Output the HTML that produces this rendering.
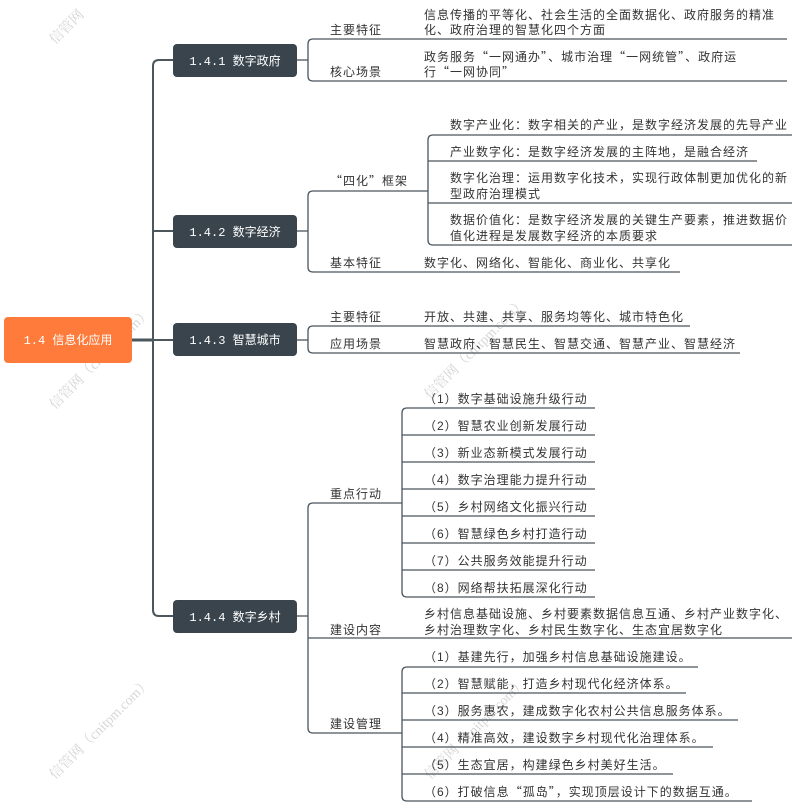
<!DOCTYPE html>
<html><head><meta charset="utf-8"><style>
html,body{margin:0;padding:0;background:#fff;}
svg{display:block;}
text{font-family:"Liberation Sans","Noto Sans CJK SC",sans-serif;font-size:12px;fill:#333;letter-spacing:1px;}
.q{font-family:"Noto Sans CJK SC",sans-serif;}
.n{font-family:"Liberation Mono","Noto Sans CJK SC",monospace;fill:#fff;font-size:12px;letter-spacing:0;}
.wm{fill:#d6d6d6;font-size:14px;font-family:"Liberation Serif","Noto Serif CJK SC",serif;letter-spacing:0;}
path,line{stroke:#4b565d;stroke-width:1.3;fill:none;}
</style></head><body>
<svg width="792" height="809" viewBox="0 0 792 809" xmlns="http://www.w3.org/2000/svg">
<text class="wm" transform="translate(55,45) rotate(-45)">信管网</text>
<text class="wm" transform="translate(55,410) rotate(-45)">信管网（cnitpm.com）</text>
<text class="wm" transform="translate(430,400) rotate(-45)">信管网（cnitpm.com）</text>
<text class="wm" transform="translate(55,780) rotate(-45)">信管网（cnitpm.com）</text>
<text class="wm" transform="translate(430,780) rotate(-45)">信管网（cnitpm.com）</text>

<line x1="132" y1="340" x2="153" y2="340" style="stroke-width:3"/>
<path d="M173,60 L159,60 Q153,60 153,66 L153,610 Q153,616 159,616 L173,616" style="stroke-width:2"/>
<line x1="153" y1="231" x2="173" y2="231" style="stroke-width:2"/>
<line x1="153" y1="340" x2="173" y2="340" style="stroke-width:2"/>

<rect x="4" y="317" width="128" height="46" rx="4" fill="#fe7b3b"/>
<text class="n" x="68" y="344" text-anchor="middle">1.4 信息化应用</text>

<rect x="173" y="44" width="124" height="33" rx="4" fill="#39444d"/>
<text class="n" x="235" y="65" text-anchor="middle">1.4.1 数字政府</text>
<rect x="173" y="215" width="124" height="33" rx="4" fill="#39444d"/>
<text class="n" x="235" y="236" text-anchor="middle">1.4.2 数字经济</text>
<rect x="173" y="323" width="124" height="33" rx="4" fill="#39444d"/>
<text class="n" x="235" y="344" text-anchor="middle">1.4.3 智慧城市</text>
<rect x="173" y="600" width="124" height="33" rx="4" fill="#39444d"/>
<text class="n" x="235" y="621" text-anchor="middle">1.4.4 数字乡村</text>

<!-- 1.4.1 -->
<line x1="297" y1="60" x2="308" y2="60"/>
<path d="M313,39 Q308,39 308,44 L308,76 Q308,81 313,81"/>
<line x1="313" y1="39" x2="787" y2="39"/>
<line x1="313" y1="81" x2="787" y2="81"/>
<text x="330" y="34">主要特征</text>
<text x="330" y="76">核心场景</text>
<text x="424" y="19">信息传播的平等化、社会生活的全面数据化、政府服务的精准</text>
<text x="424" y="34">化、政府治理的智慧化四个方面</text>
<text x="424" y="61">政务服务<tspan class="q">“</tspan>一网通办<tspan class="q">”</tspan>、城市治理<tspan class="q">“</tspan>一网统管<tspan class="q">”</tspan>、政府运</text>
<text x="424" y="76">行<tspan class="q">“</tspan>一网协同<tspan class="q">”</tspan></text>

<!-- 1.4.2 -->
<line x1="297" y1="231" x2="308" y2="231"/>
<path d="M313,191 Q308,191 308,196 L308,267 Q308,272 313,272"/>
<line x1="313" y1="191" x2="428" y2="191"/>
<line x1="313" y1="272" x2="680" y2="272"/>
<text x="330" y="185"><tspan class="q">“</tspan>四化<tspan class="q">”</tspan>框架</text>
<text x="330" y="267">基本特征</text>
<text x="424" y="267">数字化、网络化、智能化、商业化、共享化</text>
<path d="M433,135 Q428,135 428,140 L428,240 Q428,245 433,245"/>
<line x1="433" y1="135" x2="792" y2="135"/>
<line x1="428" y1="161" x2="757" y2="161"/>
<line x1="428" y1="203" x2="792" y2="203"/>
<line x1="433" y1="245" x2="792" y2="245"/>
<text x="450" y="129">数字产业化：数字相关的产业，是数字经济发展的先导产业</text>
<text x="450" y="156">产业数字化：是数字经济发展的主阵地，是融合经济</text>
<text x="450" y="182">数字化治理：运用数字化技术，实现行政体制更加优化的新</text>
<text x="450" y="198">型政府治理模式</text>
<text x="450" y="224">数据价值化：是数字经济发展的关键生产要素，推进数据价</text>
<text x="450" y="240">值化进程是发展数字经济的本质要求</text>

<!-- 1.4.3 -->
<line x1="297" y1="340" x2="308" y2="340"/>
<path d="M313,326 Q308,326 308,331 L308,348 Q308,353 313,353"/>
<line x1="313" y1="326" x2="690" y2="326"/>
<line x1="313" y1="353" x2="740" y2="353"/>
<text x="330" y="321">主要特征</text>
<text x="330" y="348">应用场景</text>
<text x="424" y="321">开放、共建、共享、服务均等化、城市特色化</text>
<text x="424" y="348">智慧政府、智慧民生、智慧交通、智慧产业、智慧经济</text>

<!-- 1.4.4 -->
<line x1="297" y1="616" x2="308" y2="616"/>
<path d="M313,503 Q308,503 308,508 L308,728 Q308,733 313,733"/>
<line x1="313" y1="503" x2="402" y2="503"/>
<line x1="308" y1="638" x2="792" y2="638"/>
<line x1="313" y1="733" x2="402" y2="733"/>
<text x="330" y="498">重点行动</text>
<text x="330" y="634">建设内容</text>
<text x="330" y="728">建设管理</text>
<text x="424" y="618">乡村信息基础设施、乡村要素数据信息互通、乡村产业数字化、</text>
<text x="424" y="634">乡村治理数字化、乡村民生数字化、生态宜居数字化</text>

<path d="M407,408 Q402,408 402,413 L402,592 Q402,597 407,597"/>
<line x1="407" y1="408" x2="595" y2="408"/>
<line x1="402" y1="435" x2="595" y2="435"/>
<line x1="402" y1="462" x2="595" y2="462"/>
<line x1="402" y1="489" x2="595" y2="489"/>
<line x1="402" y1="516" x2="595" y2="516"/>
<line x1="402" y1="543" x2="595" y2="543"/>
<line x1="402" y1="570" x2="595" y2="570"/>
<line x1="407" y1="597" x2="595" y2="597"/>
<text x="424" y="403">（1）数字基础设施升级行动</text>
<text x="424" y="430">（2）智慧农业创新发展行动</text>
<text x="424" y="457">（3）新业态新模式发展行动</text>
<text x="424" y="484">（4）数字治理能力提升行动</text>
<text x="424" y="511">（5）乡村网络文化振兴行动</text>
<text x="424" y="538">（6）智慧绿色乡村打造行动</text>
<text x="424" y="565">（7）公共服务效能提升行动</text>
<text x="424" y="592">（8）网络帮扶拓展深化行动</text>

<path d="M407,667 Q402,667 402,672 L402,796 Q402,801 407,801"/>
<line x1="407" y1="667" x2="698" y2="667"/>
<line x1="402" y1="693" x2="686" y2="693"/>
<line x1="402" y1="720" x2="738" y2="720"/>
<line x1="402" y1="747" x2="713" y2="747"/>
<line x1="402" y1="774" x2="673" y2="774"/>
<line x1="407" y1="801" x2="752" y2="801"/>
<text x="424" y="661">（1）基建先行，加强乡村信息基础设施建设。</text>
<text x="424" y="688">（2）智慧赋能，打造乡村现代化经济体系。</text>
<text x="424" y="715">（3）服务惠农，建成数字化农村公共信息服务体系。</text>
<text x="424" y="742">（4）精准高效，建设数字乡村现代化治理体系。</text>
<text x="424" y="769">（5）生态宜居，构建绿色乡村美好生活。</text>
<text x="424" y="796">（6）打破信息<tspan class="q">“</tspan>孤岛<tspan class="q">”</tspan>，实现顶层设计下的数据互通。</text>
</svg>
</body></html>
